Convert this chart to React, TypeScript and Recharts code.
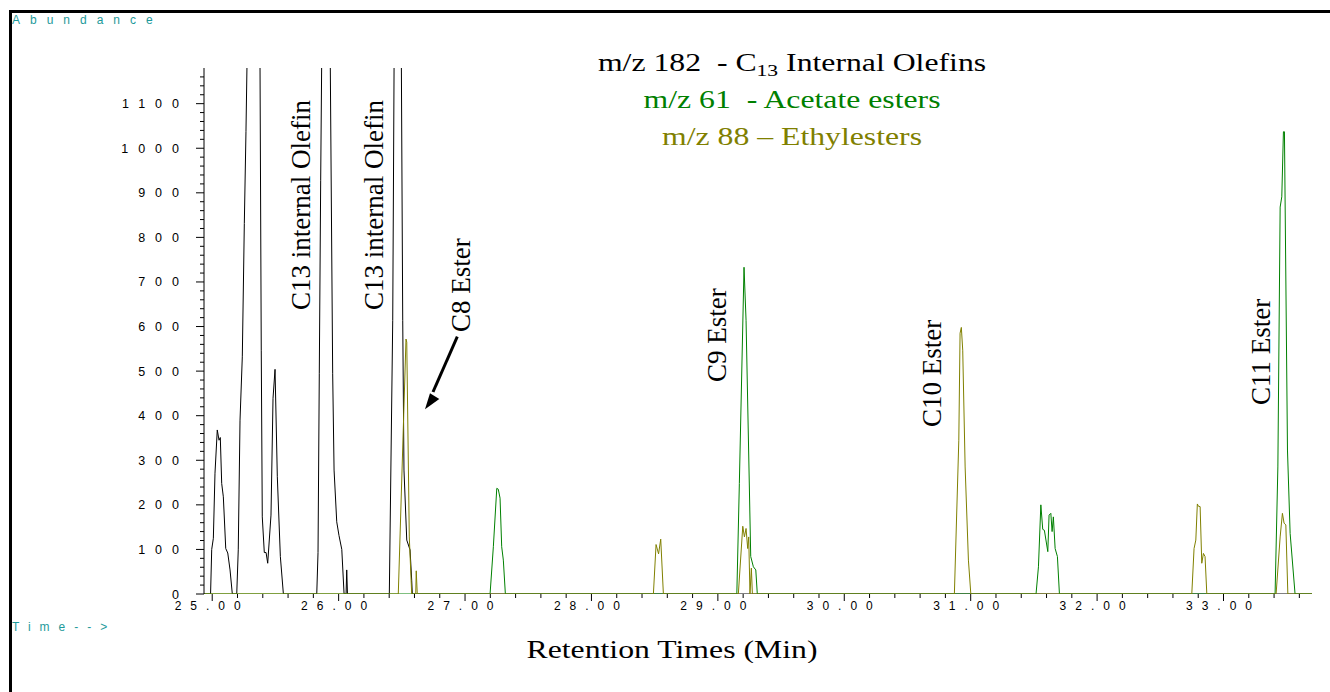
import React from 'react'
import { LineChart, Line, XAxis, YAxis } from 'recharts'

// m/z 182 - C13 internal olefins (black); tall peaks run off the top of the scale
const olefinTimes = [
  24.935, 24.987, 24.996, 25.009, 25.022, 25.04, 25.054, 25.064, 25.075, 25.088, 25.107, 25.123, 25.141, 25.159,
  25.194, 25.206, 25.22, 25.238, 25.254, 25.267, 25.279, 25.323, 25.377, 25.388, 25.396, 25.412, 25.426, 25.439,
  25.465, 25.481, 25.497, 25.515, 25.539, 25.563,
  25.827, 25.837, 25.847, 25.858, 25.868, 25.9, 25.932, 25.953, 25.964, 25.985, 26.003, 26.025, 26.043,
  26.059, 26.064, 26.07,
  26.401, 26.428, 26.44, 26.468, 26.495, 26.507, 26.517, 26.539, 26.565, 26.578, 26.583, 33.7,
]
const olefinAbund = [
  0, 0, 100, 125, 271, 368, 345, 351, 248, 218, 102, 92, 54, 0,
  0, 99, 390, 532, 831, 1038, 1260, 1400, 1260, 547, 173, 93, 93, 69,
  177, 439, 504, 263, 84, 0,
  0, 93, 494, 927, 1260, 1400, 1260, 494, 278, 162, 131, 100, 0,
  0, 54, 0,
  0, 614, 1260, 1400, 1260, 614, 278, 121, 99, 31, 0, 0,
]

// m/z 61 - acetate esters (green)
const acetateTimes = [
  24.935, 27.198, 27.224, 27.251, 27.263, 27.277, 27.29, 27.303, 27.319,
  29.15, 29.17, 29.207, 29.223, 29.26, 29.281, 29.3, 29.312,
  31.517, 31.536, 31.555, 31.57, 31.583, 31.61, 31.62, 31.634, 31.644, 31.654, 31.668, 31.686, 31.702,
  33.408, 33.43, 33.448, 33.461, 33.474, 33.482, 33.506, 33.527, 33.566, 33.7,
]
const acetateAbund = [
  0, 0, 106, 237, 235, 215, 106, 76, 0,
  0, 248, 733, 614, 84, 61, 54, 0,
  0, 61, 200, 145, 143, 95, 177, 181, 140, 173, 102, 84, 0,
  0, 285, 868, 891, 1037, 1037, 323, 136, 0, 0,
]

// m/z 88 - ethyl esters (olive)
const ethylTimes = [
  24.935, 26.472, 26.533, 26.539, 26.559, 26.578, 26.61, 26.614, 26.622,
  28.49, 28.511, 28.531, 28.548, 28.569,
  29.162, 29.197, 29.21, 29.223, 29.236, 29.244, 29.254, 29.265, 29.273,
  30.871, 30.906, 30.916, 30.926, 30.937, 30.956, 30.982, 31.001,
  32.749, 32.767, 32.781, 32.793, 32.801, 32.815, 32.828, 32.841, 32.854, 32.868,
  33.416, 33.448, 33.466, 33.479, 33.493, 33.509, 33.7,
]
const ethylAbund = [
  0, 0, 572, 565, 128, 0, 0, 52, 0,
  0, 111, 90, 123, 0,
  0, 152, 128, 147, 102, 128, 0, 58, 0,
  0, 345, 585, 598, 547, 285, 76, 0,
  0, 102, 121, 202, 197, 196, 69, 91, 84, 0,
  0, 128, 181, 159, 155, 0, 0,
]

const xTicks = [
  25, 25.2, 25.4, 25.6, 25.8, 26, 26.2, 26.4, 26.6, 26.8, 27, 27.2, 27.4, 27.6, 27.8, 28, 28.2, 28.4, 28.6, 28.8,
  29, 29.2, 29.4, 29.6, 29.8, 30, 30.2, 30.4, 30.6, 30.8, 31, 31.2, 31.4, 31.6, 31.8, 32, 32.2, 32.4, 32.6, 32.8,
  33, 33.2, 33.4, 33.6,
]
const yTicks = [
  0, 20, 40, 60, 80, 100, 120, 140, 160, 180, 200, 220, 240, 260, 280, 300, 320, 340, 360, 380, 400, 420, 440,
  460, 480, 500, 520, 540, 560, 580, 600, 620, 640, 660, 680, 700, 720, 740, 760, 780, 800, 820, 840, 860, 880,
  900, 920, 940, 960, 980, 1000, 1020, 1040, 1060, 1080, 1100, 1120, 1140, 1160,
]

const toSeries = (times: number[], abund: number[]) => times.map((t, i) => ({ t, v: abund[i] }))

const olefinData = toSeries(olefinTimes, olefinAbund)
const acetateData = toSeries(acetateTimes, acetateAbund)
const ethylData = toSeries(ethylTimes, ethylAbund)

const SANS = "'Liberation Sans', Arial, sans-serif"
const SERIF = "'Liberation Serif', 'Times New Roman', serif"
const TEAL = '#1e9a9a'

const XTick = ({ x, y, payload }: any) => {
  const v = payload.value as number
  const major = Number.isInteger(v)
  return (
    <g>
      <line x1={x} x2={x} y1={y} y2={y + (major ? 7 : 4)} stroke="#000" />
      {major && (
        <text x={x} y={y + 16} textAnchor="middle" fontFamily={SANS} fontSize={12} letterSpacing={9} fill="#000">
          {v.toFixed(2)}
        </text>
      )}
    </g>
  )
}

const YTick = ({ x, y, payload }: any) => {
  const v = payload.value as number
  const major = v % 100 === 0
  return (
    <g>
      <line x1={x - (major ? 8 : 4)} x2={x} y1={y} y2={y} stroke="#000" />
      {major && (
        <text x={x - 15} y={y + 4.5} textAnchor="end" fontFamily={SANS} fontSize={12.5} letterSpacing={10} fill="#000">
          {v}
        </text>
      )}
    </g>
  )
}

// rotated peak label, reading bottom to top
const PeakLabel = ({ x, y, text }: { x: number; y: number; text: string }) => (
  <text transform={`translate(${x},${y}) rotate(-90)`} fontFamily={SERIF} fontSize={27} fill="#000">
    {text}
  </text>
)

export default function App() {
  return (
    <div style={{ position: 'absolute', left: 0, top: 0, width: 1330, height: 692, overflow: 'hidden', background: '#fff' }}>
      <div
        style={{
          position: 'absolute', left: 9, top: 10, width: 1400, height: 800,
          borderTop: '3px solid #000', borderLeft: '3px solid #000',
        }}
      />
      <div style={{ position: 'absolute', left: 0, top: 0 }}>
        <LineChart width={1330} height={692} margin={{ top: 68, right: 18, left: 104, bottom: 58 }}>
          <XAxis
            type="number"
            dataKey="t"
            domain={[24.935, 33.7]}
            allowDataOverflow
            ticks={xTicks}
            interval={0}
            tick={(p: any) => <XTick {...p} />}
            tickLine={false}
            axisLine={false}
            tickSize={0}
            tickMargin={0}
            height={40}
          />
          <YAxis
            type="number"
            domain={[0, 1180]}
            allowDataOverflow
            ticks={yTicks}
            interval={0}
            tick={(p: any) => <YTick {...p} />}
            tickLine={false}
            axisLine={{ stroke: '#000' }}
            tickSize={0}
            tickMargin={0}
            width={100}
          />
          <Line data={olefinData} dataKey="v" type="linear" stroke="#000" strokeWidth={1} dot={false} isAnimationActive={false} />
          <Line data={acetateData} dataKey="v" type="linear" stroke="#008000" strokeWidth={1} dot={false} isAnimationActive={false} />
          <Line data={ethylData} dataKey="v" type="linear" stroke="#808000" strokeWidth={1} dot={false} isAnimationActive={false} />
        </LineChart>
      </div>
      <svg style={{ position: 'absolute', left: 0, top: 0 }} width={1330} height={663}>
        <text x={12} y={24} fontFamily={SANS} fontSize={12} letterSpacing={10} fill={TEAL}>Abundance</text>
        <text x={12} y={631} fontFamily={SANS} fontSize={12} letterSpacing={9} fill={TEAL}>{'Time-->'}</text>

        <g fontFamily={SERIF} fontSize={25} textAnchor="middle">
          <text transform="translate(792,71) scale(1.27,1)" fill="#000" xmlSpace="preserve" style={{ whiteSpace: 'pre' }}>
            {'m/z 182\u00a0 - C'}
            <tspan fontSize={17} dy={5}>13</tspan>
            <tspan dy={-5}>{' Internal Olefins'}</tspan>
          </text>
          <text transform="translate(792,108) scale(1.27,1)" fill="#008000" xmlSpace="preserve" style={{ whiteSpace: 'pre' }}>
            {'m/z 61\u00a0 - Acetate esters'}
          </text>
          <text transform="translate(792,145) scale(1.27,1)" fill="#808000">{'m/z 88 \u2013 Ethylesters'}</text>
          <text transform="translate(672,658) scale(1.27,1)" fill="#000">Retention Times (Min)</text>
        </g>

        <PeakLabel x={310} y={310} text="C13 internal Olefin" />
        <PeakLabel x={383} y={310} text="C13 internal Olefin" />
        <PeakLabel x={470} y={332} text="C8 Ester" />
        <PeakLabel x={726} y={382} text="C9 Ester" />
        <PeakLabel x={940.5} y={427} text="C10 Ester" />
        <PeakLabel x={1269.5} y={405} text="C11 Ester" />

        <line x1={457.3} y1={336.7} x2={433} y2={392} stroke="#000" strokeWidth={3} />
        <polygon points="425,409.3 439.3,399 430,393.3" fill="#000" />
      </svg>
    </div>
  )
}
